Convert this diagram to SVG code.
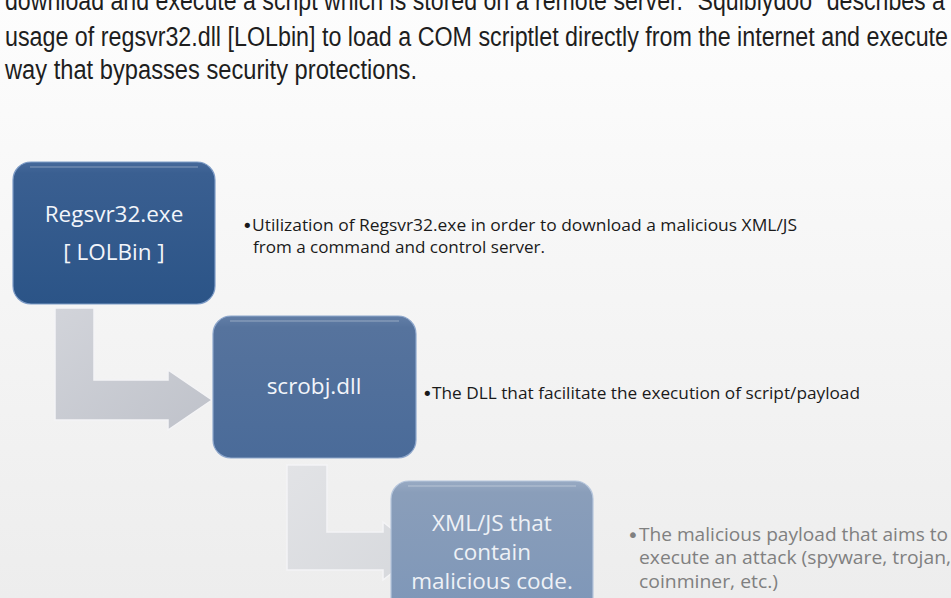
<svg xmlns="http://www.w3.org/2000/svg" width="951" height="598" viewBox="0 0 951 598">
<defs>
<linearGradient id="bg" x1="0" y1="0" x2="0" y2="1">
<stop offset="0" stop-color="#fdfdfd"/>
<stop offset="1" stop-color="#ededed"/>
</linearGradient>
<linearGradient id="b1" x1="0" y1="0" x2="0" y2="1">
<stop offset="0" stop-color="#46699a"/>
<stop offset="0.08" stop-color="#3a5f91"/>
<stop offset="1" stop-color="#2b5487"/>
</linearGradient>
<linearGradient id="b2" x1="0" y1="0" x2="0" y2="1">
<stop offset="0" stop-color="#627ea6"/>
<stop offset="0.08" stop-color="#56739d"/>
<stop offset="1" stop-color="#4a6b99"/>
</linearGradient>
<linearGradient id="b3" x1="0" y1="0" x2="0" y2="1">
<stop offset="0" stop-color="#98aac3"/>
<stop offset="0.08" stop-color="#8a9eba"/>
<stop offset="1" stop-color="#7d96b8"/>
</linearGradient>
<linearGradient id="a1" x1="0" y1="0" x2="1" y2="1">
<stop offset="0" stop-color="#d2d4da"/>
<stop offset="1" stop-color="#bfc2ca"/>
</linearGradient>
<linearGradient id="a2" x1="0" y1="0" x2="1" y2="1">
<stop offset="0" stop-color="#e2e3e6"/>
<stop offset="1" stop-color="#d6d8dc"/>
</linearGradient>
</defs>
<style>
.head{font-family:"Liberation Sans",Arial,sans-serif;font-size:27px;fill:#1e1e1e;}
.box{stroke-width:1.2;}
.lbl{font-family:"Open Sans","Noto Sans",sans-serif;font-size:22.5px;fill:#f2f5fa;text-anchor:middle;}
.bul{font-family:"Open Sans","Noto Sans",sans-serif;font-size:16px;fill:#1a1a1a;}
.bul3{font-family:"Open Sans","Noto Sans",sans-serif;font-size:18.5px;fill:#808080;}
.dot{font-family:"DejaVu Sans",sans-serif;font-size:18px;}
.arr{stroke:#f4f4f6;stroke-width:1.5;}
.hl{fill:none;stroke:#ffffff;stroke-opacity:0.18;stroke-width:2;}
</style>
<rect x="0" y="0" width="951" height="598" fill="url(#bg)"/>
<g id="heading">
<text class="head" x="5" y="10" textLength="940" lengthAdjust="spacingAndGlyphs">download and execute a script which is stored on a remote server. "Squiblydoo" describes a</text>
<text class="head" x="5" y="46" textLength="943" lengthAdjust="spacingAndGlyphs">usage of regsvr32.dll [LOLbin] to load a COM scriptlet directly from the internet and execute</text>
<text class="head" x="5" y="79" textLength="412" lengthAdjust="spacingAndGlyphs">way that bypasses security protections.</text>
</g>
<g id="connectors">
<path class="arr" fill="url(#a1)" d="M55 308 H94 V380 H168 V370 L212 400 L168 430 V420 H55 Z"/>
<path class="arr" fill="url(#a2)" d="M287 465 H327 V532 H383 V522 L420 551 L383 580 V570 H287 Z"/>
</g>
<g id="node-regsvr32">
<rect class="box" x="13" y="162" width="202" height="142" rx="18" fill="url(#b1)" stroke="#7d9bc6"/>
<path class="hl" d="M30 167 H198"/>
<text class="lbl" x="114" y="222">Regsvr32.exe</text>
<text class="lbl" x="114" y="260">[ LOLBin ]</text>
</g>
<g id="node-scrobj">
<rect class="box" x="213" y="316" width="203" height="142" rx="18" fill="url(#b2)" stroke="#8ea7cc"/>
<path class="hl" d="M230 321 H399"/>
<text class="lbl" x="314" y="394">scrobj.dll</text>
</g>
<g id="node-xmljs">
<rect class="box" x="391" y="481" width="202" height="142" rx="18" fill="url(#b3)" stroke="#b6c6dc"/>
<path class="hl" d="M408 486 H576"/>
<text class="lbl" x="492" y="531" style="fill:#eef1f6">XML/JS that</text>
<text class="lbl" x="492" y="560" style="fill:#eef1f6">contain</text>
<text class="lbl" x="492" y="589" style="fill:#eef1f6">malicious code.</text>
</g>
<g id="desc-1">
<text class="bul dot" x="242" y="232">•</text>
<text class="bul" x="252" y="231" textLength="545" lengthAdjust="spacingAndGlyphs">Utilization of Regsvr32.exe in order to download a malicious XML/JS</text>
<text class="bul" x="253" y="253" textLength="292" lengthAdjust="spacingAndGlyphs">from a command and control server.</text>
</g>
<g id="desc-2">
<text class="bul dot" x="422" y="400">•</text>
<text class="bul" x="432" y="399" textLength="428" lengthAdjust="spacingAndGlyphs">The DLL that facilitate the execution of script/payload</text>
</g>
<g id="desc-3">
<text class="bul3 dot" x="627" y="542" style="font-size:20px">•</text>
<text class="bul3" x="639" y="541" textLength="309" lengthAdjust="spacingAndGlyphs">The malicious payload that aims to</text>
<text class="bul3" x="639" y="564" textLength="312" lengthAdjust="spacingAndGlyphs">execute an attack (spyware, trojan,</text>
<text class="bul3" x="639" y="588" textLength="139" lengthAdjust="spacingAndGlyphs">coinminer, etc.)</text>
</g>
</svg>
